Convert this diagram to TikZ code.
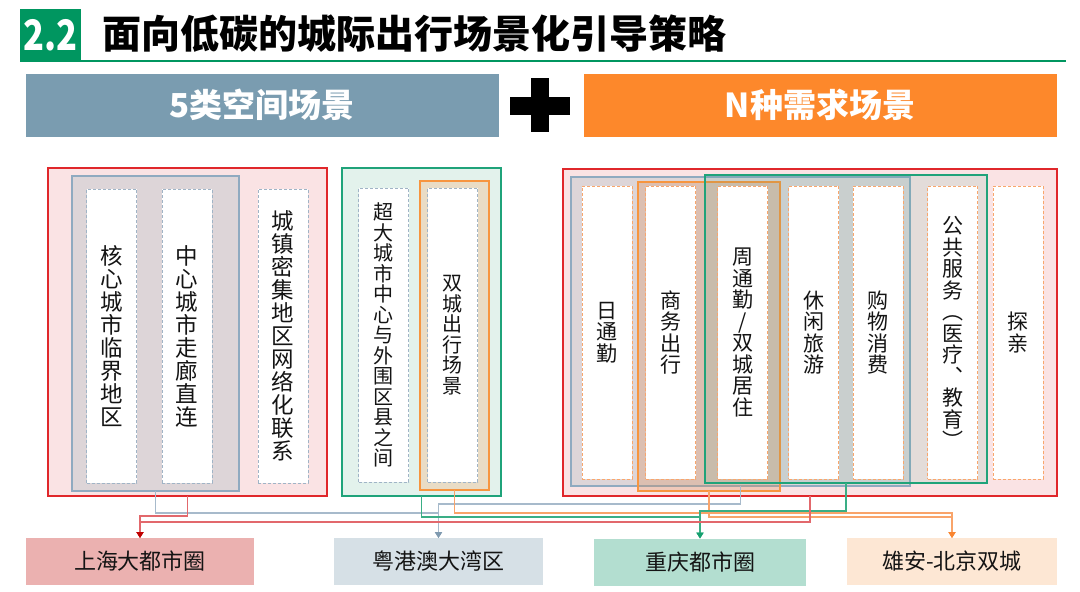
\documentclass[tikz,border=0pt]{standalone}
\usepackage{fontspec}
\setmainfont{Noto Sans CJK SC}
\usetikzlibrary{arrows.meta}
\definecolor{titlegreen}{RGB}{0,150,96}
\definecolor{hdrblue}{RGB}{122,156,176}
\definecolor{hdrorange}{RGB}{253,136,43}
\definecolor{pinkfill}{RGB}{250,227,228}
\definecolor{redbd}{RGB}{224,39,43}
\definecolor{grayfill}{RGB}{221,213,216}
\definecolor{graybd}{RGB}{143,170,192}
\definecolor{greenfill}{RGB}{227,242,236}
\definecolor{greenbd}{RGB}{31,163,122}
\definecolor{tanfill}{RGB}{233,220,197}
\definecolor{orangebd}{RGB}{247,149,63}
\definecolor{orfill}{RGB}{218,143,89}
\definecolor{dashblue}{RGB}{160,180,198}
\definecolor{dashor}{RGB}{249,166,108}
\definecolor{shfill}{RGB}{235,177,176}
\definecolor{ygfill}{RGB}{214,224,230}
\definecolor{cqfill}{RGB}{179,222,208}
\definecolor{xafill}{RGB}{253,231,212}
\definecolor{redln}{RGB}{226,104,108}
\definecolor{blueln}{RGB}{167,186,203}
\definecolor{greenln}{RGB}{58,174,133}
\definecolor{orln}{RGB}{249,164,106}
\definecolor{redtip}{RGB}{192,0,0}
\definecolor{bluetip}{RGB}{127,154,176}
\definecolor{greentip}{RGB}{20,160,111}
\definecolor{ortip}{RGB}{249,133,48}
\definecolor{txt}{RGB}{20,20,20}
\begin{document}
\begin{tikzpicture}[x=1pt,y=-1pt,
  box/.style={rectangle,draw,inner sep=0pt,outer sep=0pt},
  groupbox/.style={box,line width=1.1pt},
  vcell/.style={box,fill=white,line width=0.9pt,dash pattern=on 3pt off 2pt,
    minimum width=50,align=center,text=txt},
  vleft/.style={vcell,draw=dashblue,minimum height=294,font=\fontsize{22.5}{23}\selectfont},
  vmid/.style={vcell,draw=dashblue,minimum height=294,font=\fontsize{20}{20.5}\selectfont},
  vright/.style={vcell,draw=dashor,minimum height=293,font=\fontsize{21}{21.5}\selectfont},
  hdr/.style={box,draw=white,line width=0.6pt,minimum width=474,minimum height=64,
    text=white,font=\fontsize{33}{36}\selectfont\bfseries},
  city/.style={box,draw=none,minimum height=47,text=txt,font=\fontsize{22}{24}\selectfont},
  conn/.style={line width=1.6pt},
]
\useasboundingbox (0,0) rectangle (1080,592);

% title
\node[box,draw=none,fill=titlegreen,minimum width=61,minimum height=52,text=white,
  font=\fontsize{42}{44}\selectfont\bfseries] (tsq) at (50.5,35) {\raisebox{-5pt}{\scalebox{0.82}[1]{2.2}}};
\coordinate (lineend) at (1066,61);
\draw[titlegreen,line width=2pt] (tsq.south west) -- (lineend);
\node[anchor=west,inner sep=0pt,text=black,font=\fontsize{39}{42}\selectfont\bfseries]
  (title) at (102,34) {面向低碳的城际出行场景化引导策略};

% header
\node[hdr,fill=hdrblue] (hl) at (262,105) {5类空间场景};
\node[hdr,fill=hdrorange] (hr) at (820,105) {N种需求场景};
\fill[black] (510,97) rectangle (570,115);
\fill[black] (531,78) rectangle (549,132);

% left group
\node[groupbox,draw=redbd,fill=pinkfill,minimum width=279,minimum height=328] (redL) at (187.5,332) {};
\node[groupbox,draw=graybd,fill=grayfill,minimum width=167,minimum height=315] (grayL) at (155.5,333.5) {};
\node[vleft] (l1) at (111.5,336) {核\\心\\城\\市\\临\\界\\地\\区};
\node[vleft] (l2) at (187,336) {中\\心\\城\\市\\走\\廊\\直\\连};
\node[vleft] (l3) at (283,336) {城\\镇\\密\\集\\地\\区\\网\\络\\化\\联\\系};

% middle group
\node[groupbox,draw=greenbd,fill=greenfill,minimum width=159,minimum height=328] (greenM) at (421.5,332) {};
\node[groupbox,draw=orangebd,fill=tanfill,minimum width=69,minimum height=309] (orangeM) at (454.5,335.5) {};
\node[vmid] (m1) at (383.5,335) {超\\大\\城\\市\\中\\心\\与\\外\\围\\区\\县\\之\\间};
\node[vmid] (m2) at (452.5,335) {双\\城\\出\\行\\场\\景};

% right group
\node[groupbox,draw=redbd,fill=pinkfill,minimum width=494,minimum height=327] (redR) at (810,332.5) {};
\node[groupbox,draw=graybd,fill=grayfill,minimum width=339,minimum height=309] (grayR) at (740.5,331.5) {};
\node[groupbox,draw=orangebd,fill=orfill,fill opacity=0.3,minimum width=142,minimum height=309] (orangeR) at (709,336.5) {};
\node[groupbox,draw=greenbd,fill=greenbd,fill opacity=0.1,minimum width=282,minimum height=308] (greenR) at (846,329) {};
\node[vright] (r1) at (607,332.5) {日\\通\\勤};
\node[vright] (r2) at (670.5,332.5) {商\\务\\出\\行};
\node[vright] (r3) at (742.5,332.5) {周\\通\\勤\\/\\双\\城\\居\\住};
\node[vright] (r4) at (813.5,332.5) {休\\闲\\旅\\游};
\node[vright] (r5) at (878,332.5) {购\\物\\消\\费};
\node[vright] (r6) at (952.5,332.5) {公\\共\\服\\务\\︵\\医\\疗\\︑\\教\\育\\︶};
\node[vright] (r7) at (1018,332.5) {探\\亲};

% bottom city boxes
\node[city,fill=shfill,minimum width=228] (sh) at (140,561.5) {上海大都市圈};
\node[city,fill=ygfill,minimum width=209] (yg) at (438.5,561.5) {粤港澳大湾区};
\node[city,fill=cqfill,minimum width=212] (cq) at (700,562) {重庆都市圈};
\node[city,fill=xafill,minimum width=210] (xa) at (952,561.5) {雄安-北京双城};

% connectors
\draw[conn,blueln,-{Triangle[width=7pt,length=6pt,color=bluetip]}] (grayL.south) -- ++(0,22) -| (yg.north);
\draw[conn,blueln,-{Triangle[width=7pt,length=6pt,color=bluetip]}] (grayR.south) -- ++(0,18) -| (yg.north);
\draw[conn,orln,-{Triangle[width=7pt,length=6pt,color=ortip]}] (orangeM.south) -- ++(0,23) -| (xa.north);
\draw[conn,orln,-{Triangle[width=7pt,length=6pt,color=ortip]}] (orangeR.south) -- ++(0,26) -| (xa.north);
\draw[conn,greenln,-{Triangle[width=7pt,length=6pt,color=greentip]}] (greenM.south) -- ++(0,21) -| (cq.north);
\draw[conn,greenln,-{Triangle[width=7pt,length=6pt,color=greentip]}] (greenR.south) -- ++(0,28) -| (cq.north);
\draw[conn,redln,-{Triangle[width=7pt,length=6pt,color=redtip]}] (redL.south) -- ++(0,20) -| (sh.north);
\draw[conn,redln,-{Triangle[width=7pt,length=6pt,color=redtip]}] (redR.south) -- ++(0,26) -| (sh.north);
\end{tikzpicture}
\end{document}
